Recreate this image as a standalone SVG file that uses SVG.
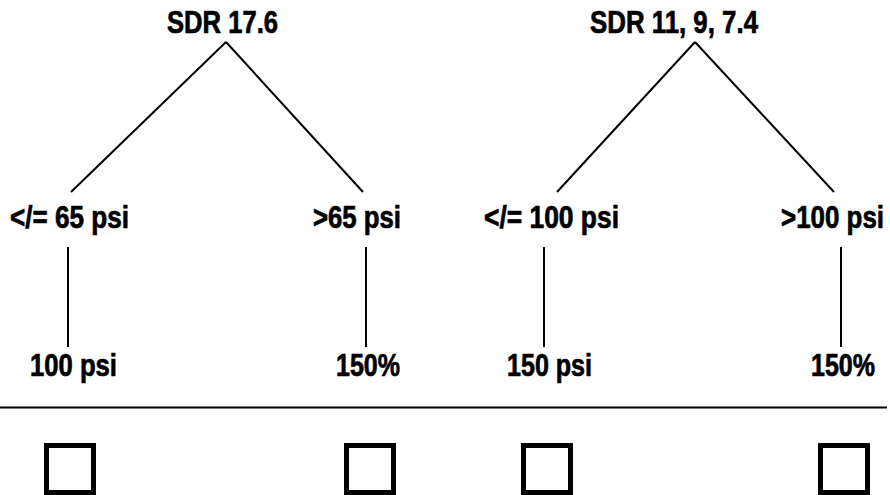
<svg xmlns="http://www.w3.org/2000/svg" width="890" height="495" viewBox="0 0 890 495">
<style>
.t{font-family:"Liberation Sans",Arial,sans-serif;font-weight:bold;font-size:31px;fill:#000;stroke:#000;stroke-width:0.7}
.c line{stroke:#000;stroke-width:2;fill:none}
.box{fill:none;stroke:#000;stroke-width:5}
</style>
<rect width="890" height="495" fill="#fff"/>
<g id="connectors" class="c">
<line x1="226" y1="42" x2="71" y2="192"/>
<line x1="226" y1="42" x2="363" y2="192"/>
<line x1="68" y1="247" x2="68" y2="347"/>
<line x1="366" y1="247" x2="366" y2="347"/>
<line x1="695" y1="42" x2="557" y2="192"/>
<line x1="695" y1="42" x2="834" y2="192"/>
<line x1="544" y1="247" x2="544" y2="347"/>
<line x1="841" y1="247" x2="841" y2="347"/>
<line x1="0" y1="407.5" x2="887" y2="407.5"/>
</g>
<g id="sdr176"><text class="t" x="167" y="33" textLength="111" lengthAdjust="spacingAndGlyphs">SDR 17.6</text></g>
<g id="sdr11"><text class="t" x="590" y="33" textLength="168" lengthAdjust="spacingAndGlyphs">SDR 11, 9, 7.4</text></g>
<g id="le65"><text class="t" x="10" y="228" textLength="119" lengthAdjust="spacingAndGlyphs">&lt;/= 65 psi</text></g>
<g id="gt65"><text class="t" x="313" y="228" textLength="88" lengthAdjust="spacingAndGlyphs">&gt;65 psi</text></g>
<g id="le100"><text class="t" x="484" y="228" textLength="135" lengthAdjust="spacingAndGlyphs">&lt;/= 100 psi</text></g>
<g id="gt100"><text class="t" x="884" y="228" text-anchor="end" textLength="103" lengthAdjust="spacingAndGlyphs">&gt;100 psi</text></g>
<g id="r100psi"><text class="t" x="30" y="376" textLength="87" lengthAdjust="spacingAndGlyphs">100 psi</text></g>
<g id="r150pct1"><text class="t" x="336" y="376" textLength="64" lengthAdjust="spacingAndGlyphs">150%</text></g>
<g id="r150psi"><text class="t" x="507" y="376" textLength="85" lengthAdjust="spacingAndGlyphs">150 psi</text></g>
<g id="r150pct2"><text class="t" x="811" y="376" textLength="64" lengthAdjust="spacingAndGlyphs">150%</text></g>
<g id="box1"><rect class="box" x="46.5" y="445.5" width="47" height="47"/></g>
<g id="box2"><rect class="box" x="346.5" y="445.5" width="47" height="47"/></g>
<g id="box3"><rect class="box" x="523.5" y="445.5" width="47" height="47"/></g>
<g id="box4"><rect class="box" x="820.5" y="445.5" width="47" height="47"/></g>
</svg>
